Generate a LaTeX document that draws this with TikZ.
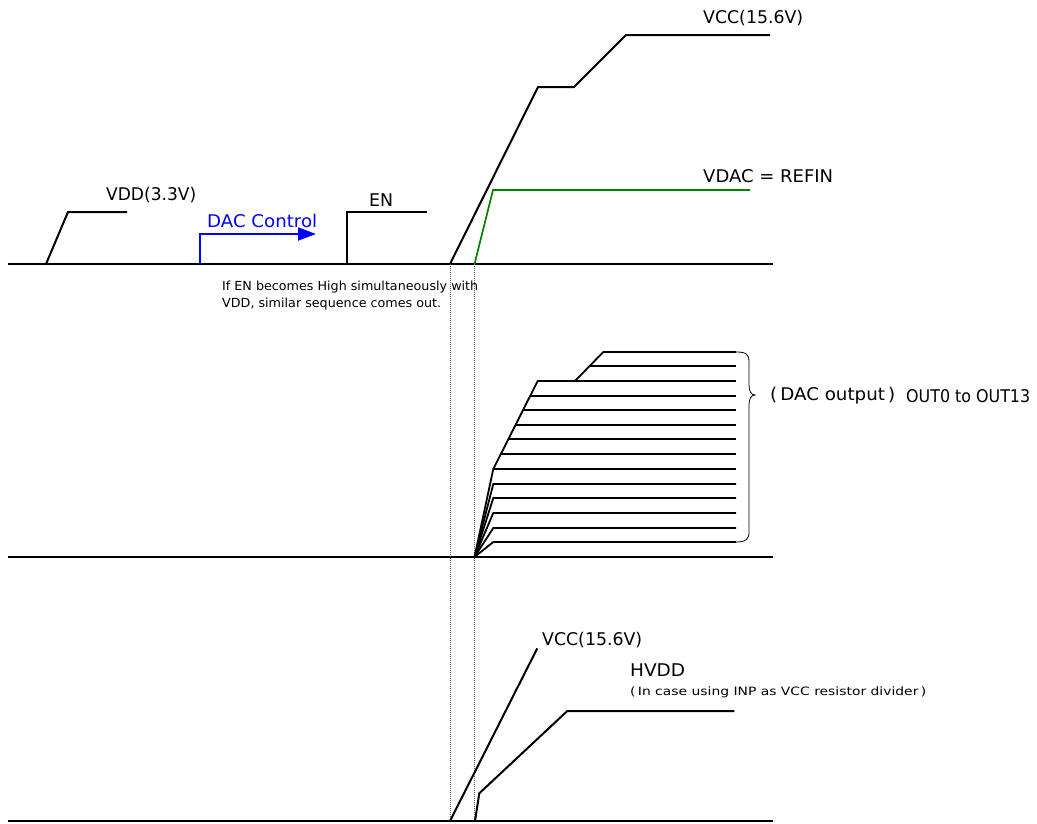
\documentclass[tikz,border=0pt]{standalone}
\usepackage{fontspec}
\setmainfont{DejaVu Sans}
\usepackage{graphicx}
\usetikzlibrary{arrows.meta}
\newcommand\fitw[2]{\resizebox{#1}{\height}{#2}}
\definecolor{sigblue}{RGB}{0,0,255}
\definecolor{siggreen}{RGB}{0,128,0}
\begin{document}
\begin{tikzpicture}[x=1pt,y=-1pt,
  sig/.style={line width=2pt,line join=miter},
  outl/.style={line width=1.8pt},
  axis/.style={line width=2pt},
  guide/.style={line width=0.6pt,gray!70!black,dash pattern=on 1pt off 1pt},
  big/.style={inner sep=0pt,anchor=west,font=\fontsize{17.5}{20}\selectfont},
  small/.style={inner sep=0pt,anchor=west,font=\fontsize{12.5}{15}\selectfont},
  tiny/.style={inner sep=0pt,anchor=west,font=\fontsize{11.5}{14}\selectfont}]
\useasboundingbox (0,0) rectangle (1037,823);

% axes
\coordinate (a1l) at (8,264);   \coordinate (a1r) at (772.5,264);
\coordinate (a2l) at (8,557);   \coordinate (a2r) at (772.5,557);
\coordinate (a3l) at (8,821);   \coordinate (a3r) at (772.5,821);
\draw[axis] (a1l) -- (a1r);
\draw[axis] (a2l) -- (a2r);
\draw[axis] (a3l) -- (a3r);

% dotted guides
\coordinate (g1t) at (450,264); \coordinate (g1b) at (450,821);
\coordinate (g2t) at (474.5,264); \coordinate (g2b) at (474.5,821);
\draw[guide] (g1t) -- (g1b);
\draw[guide] (g2t) -- (g2b);

% VDD
\draw[sig] (46,264) -- (68,212) -- (127,212);
\node[big] (vdd) at (106,195) {\fitw{90pt}{VDD(3.3V)}};

% DAC control arrow
\coordinate (dcs) at (199.5,264);
\coordinate (dce) at (316,234);
\draw[line width=2pt,sigblue,-{Triangle[length=18pt,width=13pt]}] (dcs) |- (dce);
\node[big,text=sigblue] (dacc) at (207,221) {\fitw{110pt}{DAC Control}};

% EN
\draw[sig] (346.7,264) -- (346.7,212) -- (427,212);
\node[big] (en) at (369,200) {\fitw{24pt}{EN}};

% note
\node[small] (note1) at (222,287) {\fitw{256pt}{If EN becomes High simultaneously with}};
\node[small] (note2) at (222,304) {\fitw{219pt}{VDD, similar sequence comes out.}};

% VCC top
\draw[sig] (450,264) -- (538,87) -- (574,87) -- (626,35) -- (770,35);
\node[big] (vcc1) at (703,18) {\fitw{100pt}{VCC(15.6V)}};

% VDAC
\draw[line width=1.7pt,siggreen] (474.5,264) -- (493,190) -- (750,190);
\node[big] (vdac) at (703,176) {\fitw{130pt}{VDAC = REFIN}};

% DAC outputs
\coordinate (O) at (474.5,557);
\coordinate (A) at (493.3,469);
\coordinate (B) at (537.7,381);
\coordinate (C) at (575,381);
\coordinate (D) at (603.3,352);
\coordinate (E) at (736,352);
\draw[outl] (O) -- (A) -- (B) -- (C) -- (D) -- (E);
\draw[outl] (589.3,366) -- (736,366);
\draw[outl] (B) -- (736,381);
\draw[outl] (530.2,396) -- (736,396);
\draw[outl] (522.9,410) -- (736,410);
\draw[outl] (515.5,425) -- (736,425);
\draw[outl] (508.2,439) -- (736,439);
\draw[outl] (500.8,454) -- (736,454);
\draw[outl] (A) -- (736,469);
\foreach \yy in {484,498,513,528,542}
  \draw[outl] (O) -- (493.3,\yy) -- (736,\yy);

% brace
\draw[line width=0.8pt] (736,352) .. controls (746,352) and (749,354) .. (749,362)
  -- (749,385) .. controls (749,391) and (751,395) .. (755,395)
  .. controls (751,395) and (749,399) .. (749,405)
  -- (749,532) .. controls (749,539) and (746,542) .. (736,542);
\node[big] (dout) at (770,396) {\fitw{125pt}{(\,DAC output\,)}};
\node[big] (outs) at (906,396) {\fitw{124pt}{OUT0 to OUT13}};

% bottom section
\draw[sig] (450,821) -- (537.3,648.3);
\node[big] (vcc2) at (542,640) {\fitw{100pt}{VCC(15.6V)}};
\draw[sig] (475,821) -- (479.3,793.3) -- (567.3,711) -- (734.3,711);
\node[big] (hvdd) at (630,670) {\fitw{55pt}{HVDD}};
\node[tiny] (hnote) at (630,692) {\fitw{296pt}{(\,In case using INP as VCC resistor divider\,)}};
\end{tikzpicture}
\end{document}
